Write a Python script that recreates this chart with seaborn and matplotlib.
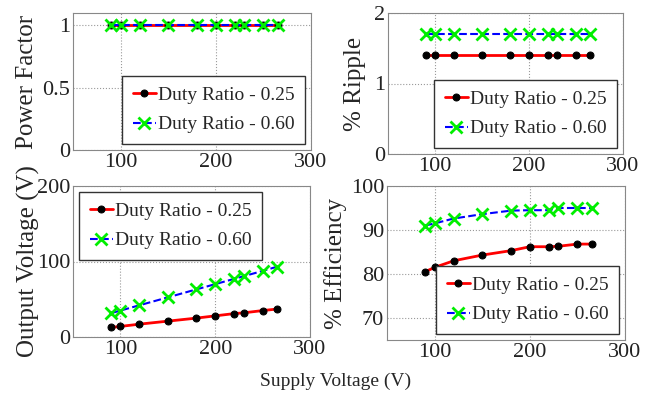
import numpy as np
import pandas as pd
import matplotlib
matplotlib.use("Agg")
import matplotlib.pyplot as plt
import seaborn as sns

# Supply voltage points (V)
supply_v = [90, 100, 120, 150, 180, 200, 220, 230, 250, 265]

# Measurements for the two duty ratios
pf_025 = [1, 1, 1, 1, 1, 1, 1, 1, 1, 1]
pf_060 = [1, 1, 1, 1, 1, 1, 1, 1, 1, 1]
ripple_025 = [1.4, 1.4, 1.4, 1.4, 1.4, 1.4, 1.4, 1.4, 1.4, 1.4]
ripple_060 = [1.7, 1.7, 1.7, 1.7, 1.7, 1.7, 1.7, 1.7, 1.7, 1.7]
vout_025 = [12.6, 14, 17, 21, 25, 28, 31, 32, 35, 37]
vout_060 = [31.5, 35, 42, 52.5, 63, 70, 77, 80.5, 87.5, 93]
eff_025 = [80.5, 81.5, 83, 84.3, 85.3, 86.2, 86.2, 86.3, 86.8, 86.8]
eff_060 = [91, 91.5, 92.6, 93.6, 94.4, 94.5, 94.5, 95, 95, 95]

labels = ["Duty Ratio - 0.25", "Duty Ratio - 0.60"]

sns.set_style("white")
plt.rcParams['font.family'] = ['Liberation Serif', 'DejaVu Serif']
plt.rcParams['font.size'] = 16

fig = plt.figure(figsize=(6.53, 3.99), dpi=100)
W, H = 653, 399


def make_ax(l, t, r, b):
    return fig.add_axes([l / W, 1 - b / H, (r - l) / W, (b - t) / H])


def draw(ax, y1, y2, ylim, yticks, yticklabels, ylabel, loc, pad):
    df = pd.DataFrame({"x": supply_v, "a": y1, "b": y2})
    sns.lineplot(data=df, x="x", y="a", ax=ax, color="red", lw=2, marker="o",
                 markersize=5, markerfacecolor="black", markeredgecolor="black",
                 label=labels[0])
    sns.lineplot(data=df, x="x", y="b", ax=ax, color="blue", lw=1.5, ls="--",
                 marker="x", markersize=8, markeredgecolor="#00ee00",
                 markeredgewidth=2, label=labels[1])
    ax.set_xlim(50, 300)
    ax.set_xticks([100, 200, 300])
    ax.set_ylim(*ylim)
    ax.set_yticks(yticks)
    ax.set_yticklabels(yticklabels)
    ax.set_xlabel("")
    ax.set_ylabel(ylabel, labelpad=pad, fontsize=18)
    ax.grid(True, ls=":", color="#999999", lw=0.8)
    for s in ax.spines.values():
        s.set_color("#888888")
    ax.tick_params(length=0, pad=2, colors="#222222", labelsize=16)
    leg = ax.legend(loc=loc, fontsize=14, handlelength=1.2, handletextpad=0.1,
                    borderpad=0.55, labelspacing=0.6, fancybox=False,
                    edgecolor="#333333", framealpha=1, borderaxespad=0.3)
    leg.get_frame().set_linewidth(1)


ax1 = make_ax(73, 13, 311, 150)
draw(ax1, pf_025, pf_060, (0, 1.1), [0, 0.5, 1], ["0", "0.5", "1"],
     "Power Factor", "lower right", 3)

ax2 = make_ax(388, 13, 623, 154)
draw(ax2, ripple_025, ripple_060, (0, 2), [0, 1, 2], ["0", "1", "2"],
     "% Ripple", "lower right", 6)

ax3 = make_ax(73, 186, 310, 337)
draw(ax3, vout_025, vout_060, (0, 200), [0, 100, 200], ["0", "100", "200"],
     "Output Voltage (V)", "upper left", -2)

ax4 = make_ax(387, 186, 625, 340)
draw(ax4, eff_025, eff_060, (65, 100), [70, 80, 90, 100],
     ["70", "80", "90", "100"], "% Efficiency", "lower right", 3)

fig.text(336 / W, 1 - 381 / H, "Supply Voltage (V)", ha="center", va="center",
         fontsize=14)

fig.savefig("out.png", dpi=100)
